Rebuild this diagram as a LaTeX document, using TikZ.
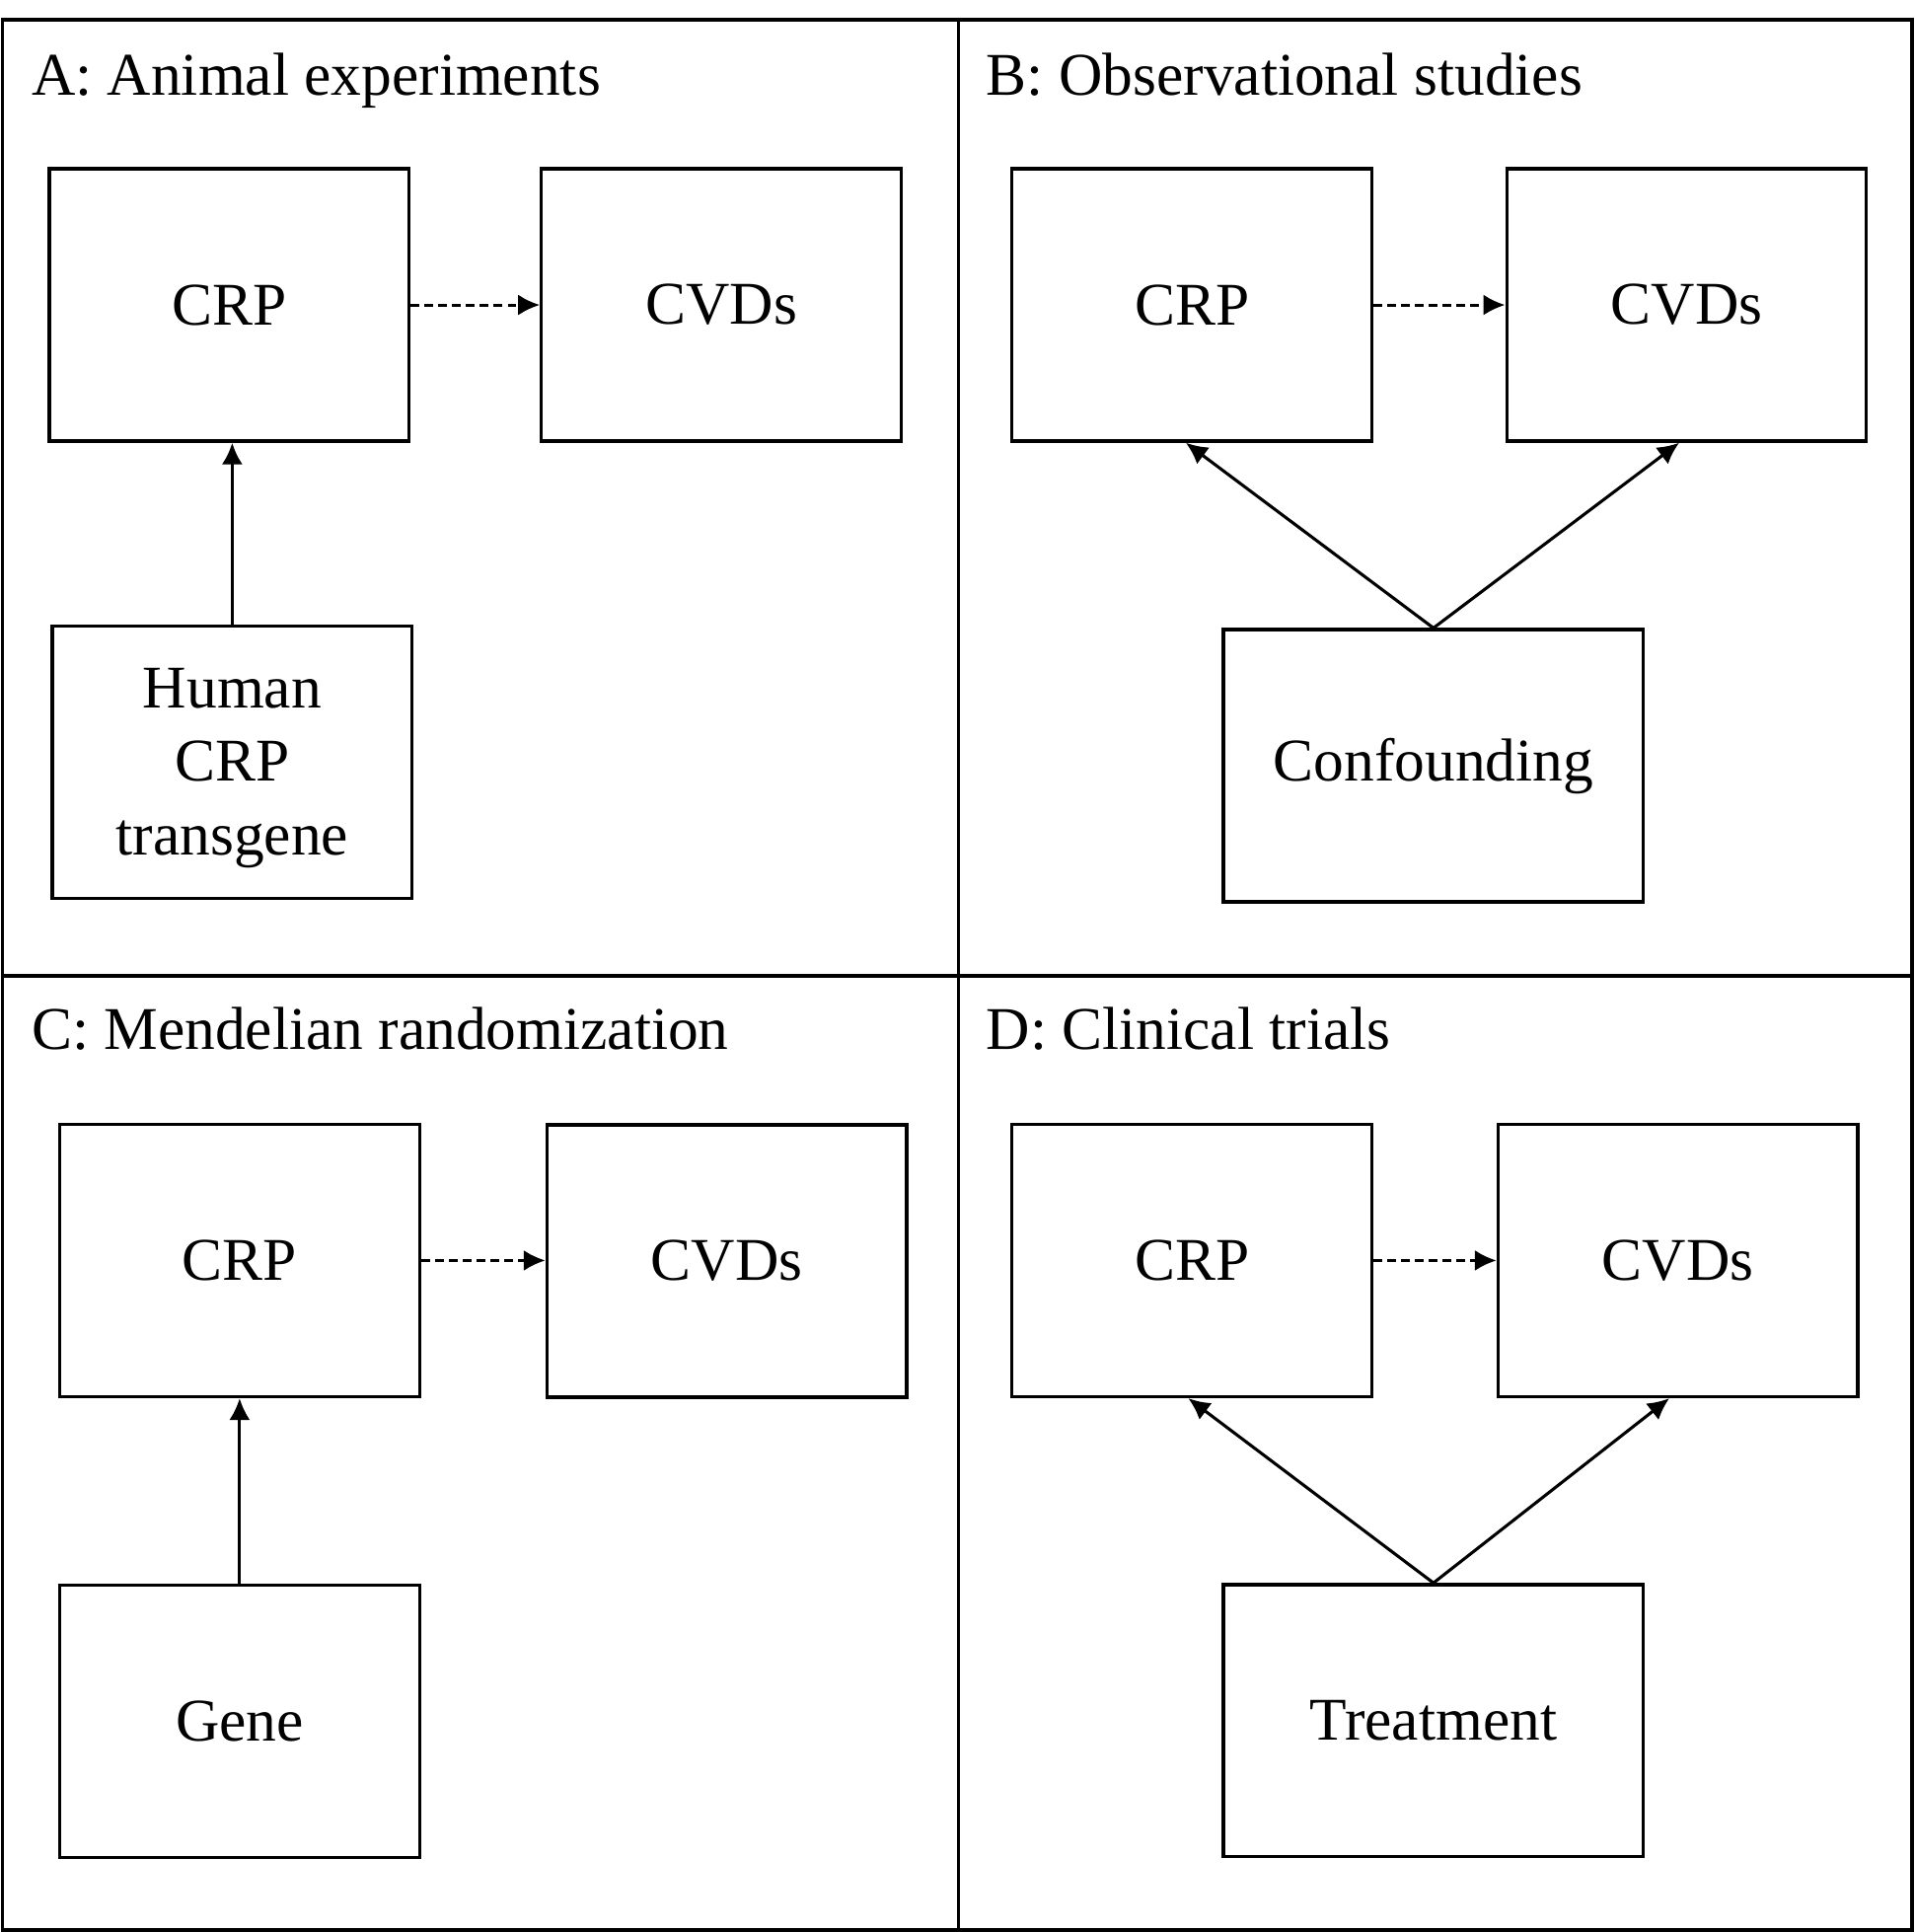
\documentclass[tikz,border=0pt]{standalone}
\usepackage{fontspec}
\setmainfont{Liberation Serif}
\usetikzlibrary{arrows.meta}
\begin{document}
\begin{tikzpicture}[
        box/.style={draw, line width=0.75pt, minimum width=2.92cm, minimum height=2.21cm,
            align=center, inner sep=0pt, font=\fontsize{14}{17}\selectfont},
        widebox/.style={box, minimum width=3.41cm},
        paneltitle/.style={anchor=base west, inner sep=0pt, font=\fontsize{14}{17}\selectfont},
        cause/.style={-{Latex[length=5pt,width=4.8pt]}, line width=0.7pt},
        maybe/.style={cause, dash pattern=on 2pt off 1.2pt}
    ]
                \useasboundingbox (0, 0) rectangle (15.54, -15.68);
                \draw[line width=0.9pt](0.02, -0.16) rectangle (15.52, -15.66);
                \draw[line width=0.7pt](7.78, -0.16) to (7.78, -15.66);
                \draw[line width=0.7pt](0.02, -7.92) to (15.52, -7.92);

                %%panel A
                \node[paneltitle] (titleA) at (0.25, -0.77){A: Animal experiments};
                \node[box] (crpA) at (1.86, -2.475){CRP};
                \node[box] (cvdA) at (5.855, -2.475){CVDs};
                \node[box] (hct) at (1.885, -6.185){\strut Human\\CRP\\transgene};
                    \draw[maybe](crpA) to (cvdA);
                    \draw[cause](hct.north) to (crpA.south -| hct.north);

                %%panel B
                \node[paneltitle] (titleB) at (8.0, -0.77){B: Observational studies};
                \node[box] (crpB) at (9.675, -2.475){CRP};
                \node[box] (cvdB) at (13.69, -2.475){CVDs};
                \node[widebox] (conf) at (11.635, -6.215){Confounding};
                    \draw[maybe](crpB) to (cvdB);
                    \draw[cause](conf.north) to ([xshift=-0.05cm]crpB.south);
                    \draw[cause](conf.north) to ([xshift=-0.06cm]cvdB.south);

                %%panel C
                \node[paneltitle] (titleC) at (0.25, -8.52){C: Mendelian randomization};
                \node[box] (crpC) at (1.945, -10.23){CRP};
                \node[box] (cvdC) at (5.90, -10.235){CVDs};
                \node[box] (gene) at (1.945, -13.97){Gene};
                    \draw[maybe](crpC) to (cvdC.west |- crpC);
                    \draw[cause](gene) to (crpC);

                %%panel D
                \node[paneltitle] (titleD) at (8.0, -8.52){D: Clinical trials};
                \node[box] (crpD) at (9.675, -10.23){CRP};
                \node[box] (cvdD) at (13.62, -10.23){CVDs};
                \node[widebox] (treat) at (11.635, -13.965){Treatment};
                    \draw[maybe](crpD) to (cvdD);
                    \draw[cause](treat.north) to ([xshift=-0.03cm]crpD.south);
                    \draw[cause](treat.north) to ([xshift=-0.07cm]cvdD.south);
\end{tikzpicture}
\end{document}
